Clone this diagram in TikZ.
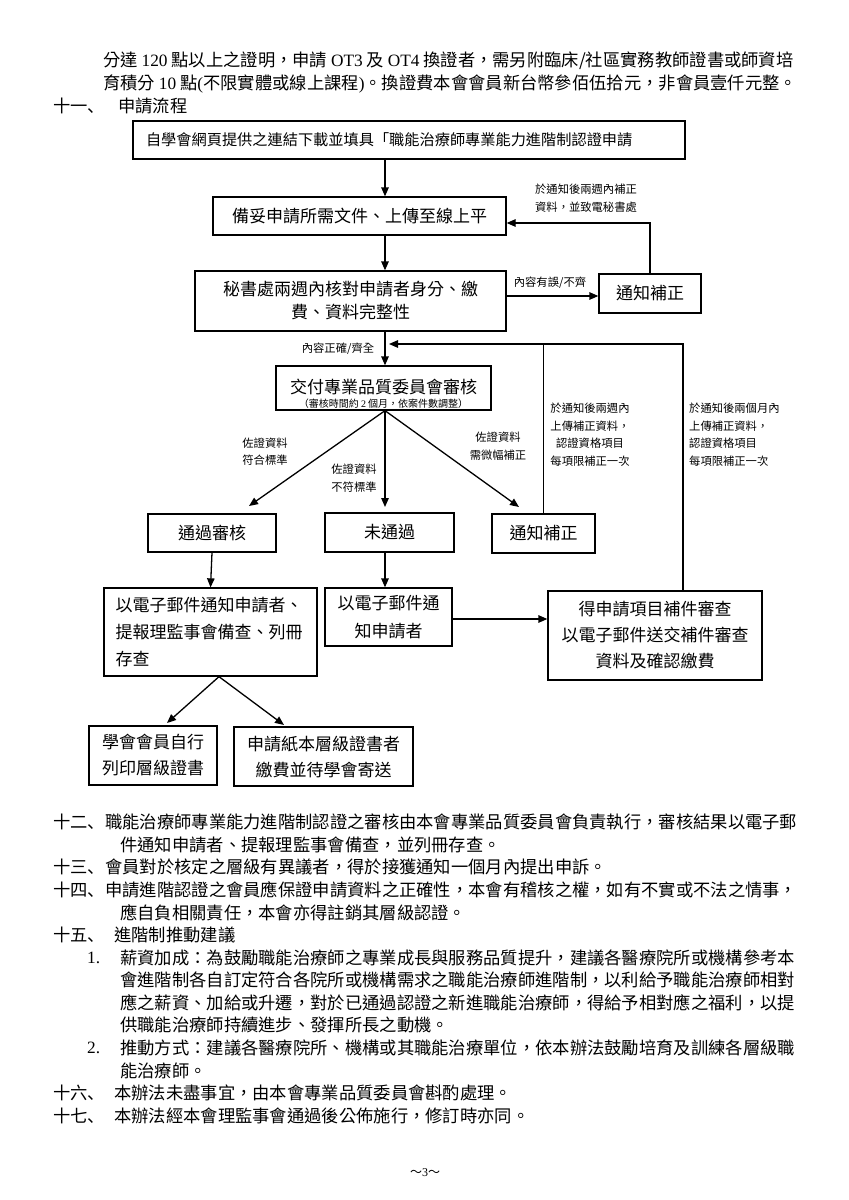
\documentclass[tikz,border=0pt]{standalone}
\usepackage{fontspec}
\setmainfont{Noto Sans CJK TC}
\newfontfamily\lat{Liberation Serif}
\newfontfamily\scf{Noto Sans CJK SC}
\usetikzlibrary{arrows.meta}
\newcommand\fsBody{\fontsize{17.3}{22.6}\selectfont}
\newcommand\fsBox{\fontsize{17}{23}\selectfont}
\newcommand\fsLbl{\fontsize{11.3}{17.5}\selectfont}
\begin{document}
\begin{tikzpicture}[x=1pt,y=-1pt,
  txt/.style={inner sep=0pt,font=\fsBody,anchor=west},
  flowbox/.style={draw,line width=1.3pt,inner sep=0pt,align=center,font=\fsBox},
  lbl/.style={inner sep=0pt,font=\fsLbl,align=center},
  arr/.style={line width=1.3pt,-{Triangle[length=9pt,width=7.5pt]}},
  plain/.style={line width=1.3pt}]
\path[use as bounding box,fill=white] (0,0) rectangle (849,1200);

% ---------- header text ----------
\node[txt] (h1) at (103,61) {分達 {\lat 120} 點以上之證明，申請 {\lat OT3} 及 {\lat OT4} 換證者，需另附臨床/社區實務教師證書或師資培};
\node[txt] (h2) at (103,83.5) {育積分 {\lat 10} 點{\lat (}不限實體或線上課程{\lat )}。換證費本會會員新台幣參佰伍拾元，非會員壹仟元整。};
\node[txt] (h3n) at (53,106) {\scf 十一、};
\node[txt] (h3) at (118,106) {申請流程};

% ---------- flow boxes ----------
\node[flowbox,minimum width=552,minimum height=38,text width=526pt,align=left,font=\fontsize{15.2}{19}\selectfont] (b1) at (409,140) {自學會網頁提供之連結下載並填具「職能治療師專業能力進階制認證申請};
\node[flowbox,minimum width=293,minimum height=38] (b2) at (359.5,216) {備妥申請所需文件、上傳至線上平};
\node[flowbox,minimum width=311,minimum height=60] (b3) at (350.5,301) {秘書處兩週內核對申請者身分、繳\\費、資料完整性};
\node[flowbox,minimum width=102,minimum height=39] (nb1) at (650,293.5) {通知補正};
\node[flowbox,minimum width=215,minimum height=44] (b4) at (383.5,388) {};
\node[inner sep=0pt,font=\fsBox] (b4t) at (383.5,386.5) {交付專業品質委員會審核};
\node[inner sep=0pt,font=\fontsize{10}{11}\selectfont] (b4s) at (383.5,403.5) {（審核時間約 {\lat 2} 個月，依案件數調整）};
\node[flowbox,minimum width=128,minimum height=38] (pass) at (212,533) {通過審核};
\node[flowbox,minimum width=129,minimum height=39] (fail) at (389.5,532.5) {未通過};
\node[flowbox,minimum width=103,minimum height=39] (nb2) at (543.5,533.5) {通知補正};
\node[flowbox,minimum width=213,minimum height=88,text width=190pt,align=left,font=\fontsize{17}{27}\selectfont] (em1) at (210.5,632) {以電子郵件通知申請者、\\提報理監事會備查、列冊\\存查};
\node[flowbox,minimum width=127,minimum height=58,font=\fontsize{17}{28}\selectfont] (em2) at (388.5,617) {以電子郵件通\\知申請者};
\node[flowbox,minimum width=214,minimum height=89,font=\fontsize{17}{26}\selectfont] (ap) at (655,635.5) {得申請項目補件審查\\以電子郵件送交補件審查\\資料及確認繳費};
\node[flowbox,minimum width=128,minimum height=59,font=\fontsize{17}{26}\selectfont] (m1) at (153,755.5) {學會會員自行\\列印層級證書};
\node[flowbox,minimum width=179,minimum height=59,font=\fontsize{17}{26}\selectfont] (m2) at (323.5,756.5) {申請紙本層級證書者\\繳費並待學會寄送};

% ---------- helper coordinates ----------
\coordinate (ax) at (385,0);
\coordinate (ry1) at (0,296);
\coordinate (ry2) at (0,223);
\coordinate (ry3) at (0,344);
\coordinate (rx3) at (683,0);
\coordinate (rtip) at (389,344);
\coordinate (t1) at (249,506);
\coordinate (t2) at (385,507);
\coordinate (t3) at (519,507);
\coordinate (ry4) at (0,619);
\coordinate (pk) at (219,0);
\coordinate (t4) at (167,723);
\coordinate (t5) at (284,725);

% ---------- connectors ----------
\draw[arr] (b1.south -| ax) -- (b2.north -| ax);
\draw[arr] (b2.south -| ax) -- (b3.north -| ax);
\draw[arr] (b3.south -| ax) -- (b4.north -| ax);
\draw[arr] (b3.east |- ry1) -- (nb1.west |- ry1);
\draw[arr] (nb1.north) -- (nb1.north |- ry2) -- (b2.east |- ry2);
\draw[plain] (nb2.north) -- (nb2.north |- ry3);
\draw[arr] (ap.north -| rx3) -- (rx3 |- ry3) -- (rtip);
\draw[arr] (b4.south -| ax) -- (t1);
\draw[arr] (b4.south -| ax) -- (t2);
\draw[arr] (b4.south -| ax) -- (t3);
\draw[arr] (pass.south) -- (em1.north);
\draw[arr] (fail.south -| ax) -- (em2.north -| ax);
\draw[arr] (em2.east |- ry4) -- (ap.west |- ry4);
\draw[arr] (em1.south -| pk) -- (t4);
\draw[arr] (em1.south -| pk) -- (t5);

% ---------- connector labels ----------
\node[lbl] (l1) at (550,283) {內容有誤/不齊};
\node[lbl] (l2) at (586,198) {於通知後兩週內補正\\資料，並致電秘書處};
\node[lbl] (l3) at (338,349) {內容正確/齊全};
\node[lbl] (l4) at (265,451.5) {佐證資料\\符合標準};
\node[lbl] (l5) at (354,478) {佐證資料\\不符標準};
\node[lbl] (l6) at (498,446) {佐證資料\\需微幅補正};
\node[lbl] (l7) at (590,434.5) {於通知後兩週內\\上傳補正資料，\\認證資格項目\\每項限補正一次};
\node[lbl,align=left,anchor=west] (l8) at (689,434.5) {於通知後兩個月內\\上傳補正資料，\\認證資格項目\\每項限補正一次};

% ---------- body text ----------
\node[txt] (n12) at (53,822) {\scf 十二、};
\node[txt] (p12a) at (105,822) {職能治療師專業能力進階制認證之審核由本會專業品質委員會負責執行，審核結果以電子郵};
\node[txt] (p12b) at (120,844.6) {件通知申請者、提報理監事會備查，並列冊存查。};
\node[txt] (n13) at (53,867.2) {\scf 十三、};
\node[txt] (p13) at (105,867.2) {會員對於核定之層級有異議者，得於接獲通知一個月內提出申訴。};
\node[txt] (n14) at (53,889.8) {\scf 十四、};
\node[txt] (p14a) at (105,889.8) {申請進階認證之會員應保證申請資料之正確性，本會有稽核之權，如有不實或不法之情事，};
\node[txt] (p14b) at (120,912.4) {應自負相關責任，本會亦得註銷其層級認證。};
\node[txt] (n15) at (53,935) {\scf 十五、};
\node[txt] (p15) at (114,935) {進階制推動建議};
\node[txt] (i1) at (87,957.6) {\lat 1.};
\node[txt] (p1a) at (120,957.6) {薪資加成：為鼓勵職能治療師之專業成長與服務品質提升，建議各醫療院所或機構參考本};
\node[txt] (p1b) at (120,980.2) {會進階制各自訂定符合各院所或機構需求之職能治療師進階制，以利給予職能治療師相對};
\node[txt] (p1c) at (120,1002.8) {應之薪資、加給或升遷，對於已通過認證之新進職能治療師，得給予相對應之福利，以提};
\node[txt] (p1d) at (120,1025.4) {供職能治療師持續進步、發揮所長之動機。};
\node[txt] (i2) at (87,1048) {\lat 2.};
\node[txt] (p2a) at (120,1048) {推動方式：建議各醫療院所、機構或其職能治療單位，依本辦法鼓勵培育及訓練各層級職};
\node[txt] (p2b) at (120,1070.6) {能治療師。};
\node[txt] (n16) at (53,1093.2) {\scf 十六、};
\node[txt] (p16) at (114,1093.2) {本辦法未盡事宜，由本會專業品質委員會斟酌處理。};
\node[txt] (n17) at (53,1115.8) {\scf 十七、};
\node[txt] (p17) at (114,1115.8) {本辦法經本會理監事會通過後公佈施行，修訂時亦同。};
\node[inner sep=0pt,font=\fontsize{12}{14}\selectfont] (pg) at (425,1173) {～{\lat 3}～};
\end{tikzpicture}
\end{document}
